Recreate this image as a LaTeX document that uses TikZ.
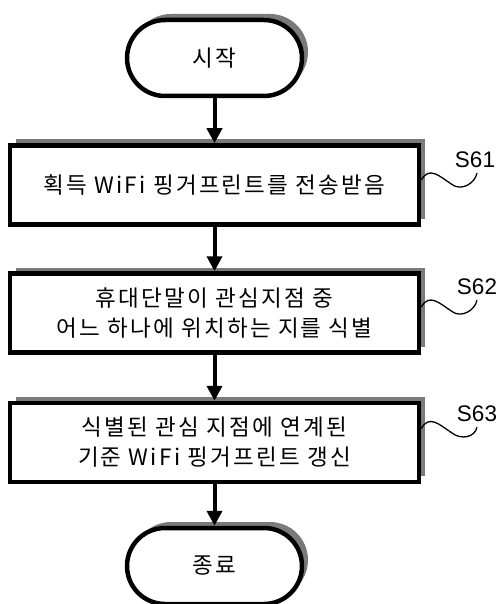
\documentclass[tikz,border=0pt]{standalone}
\usepackage{fontspec}
\setmainfont{Liberation Sans}
\newfontfamily\kr[LetterSpace=10]{Noto Sans CJK KR}
\usetikzlibrary{shapes.misc,shadows,arrows.meta}

\begin{document}
\begin{tikzpicture}[x=1pt,y=-1pt,
  boxshadow/.style={drop shadow={shadow xshift=6pt,shadow yshift=6pt,fill=black!52,opacity=1}},
  term/.style={rounded rectangle,draw,line width=4.5pt,fill=white,boxshadow,
    minimum width=175pt,minimum height=76pt,inner sep=0pt,
    font={\fontsize{22.5pt}{30pt}\selectfont\kr}},
  stepbox/.style={rectangle,draw,line width=4.5pt,fill=white,boxshadow,
    minimum width=409pt,minimum height=79pt,inner sep=0pt,align=center,
    font={\fontsize{22.5pt}{30pt}\selectfont\kr}},
  flow/.style={line width=4pt,-{Triangle[length=15pt,width=15pt]}},
  lab/.style={inner sep=0pt,font=\fontsize{22.5}{24}\selectfont},
  squig/.style={line width=1.3pt}]
\useasboundingbox (0,0) rectangle (501,604);

% flow steps
\node[term] (start) at (214.5,58) {시작};
\node[stepbox] (b1) at (214.5,185) {획득 WiFi 핑거프린트를 전송받음};
\node[stepbox] (b2) at (214.5,313) {휴대단말이 관심지점 중\\어느 하나에 위치하는 지를 식별};
\node[stepbox] (b3) at (214.5,442.5) {식별된 관심 지점에 연계된\\기준 WiFi 핑거프린트 갱신};
\node[term] (stop) at (214.5,566) {종료};

% arrows between steps
\draw[flow] (start.south) -- (b1.north);
\draw[flow] (b1.south) -- (b2.north);
\draw[flow] (b2.south) -- (b3.north);
\draw[flow] (b3.south) -- (stop.north);

% step labels with leader squiggles
\node[lab] (l1) at (475,160) {S61};
\node[lab] (l2) at (477,287) {S62};
\node[lab] (l3) at (477,414) {S63};

\draw[squig] ([yshift=5pt]b1.east) .. controls +(8,-14) and +(-12,-8) .. ++(30,4)
  .. controls +(10,8) and +(-2,10) .. ([xshift=2pt,yshift=-5pt]l1.south);
\draw[squig] ([yshift=6pt]b2.east) .. controls +(8,-14) and +(-12,-8) .. ++(30,4)
  .. controls +(10,8) and +(-2,10) .. ([xshift=0pt,yshift=-5pt]l2.south);
\draw[squig] ([yshift=14pt]b3.east) .. controls +(8,-14) and +(-12,-8) .. ++(30,4)
  .. controls +(10,8) and +(-2,10) .. ([xshift=0pt,yshift=-5pt]l3.south);
\end{tikzpicture}
\end{document}
